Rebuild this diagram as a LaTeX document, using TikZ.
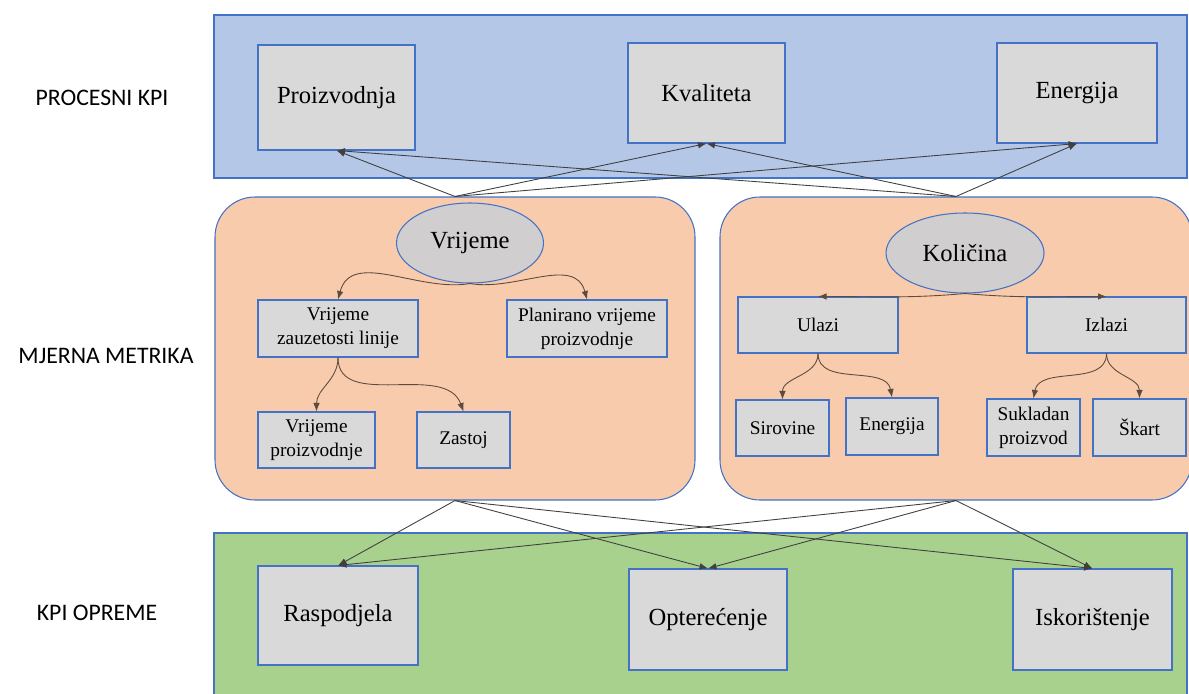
\documentclass[tikz,border=0pt]{standalone}
\usepackage{fontspec}
\setmainfont{Liberation Serif}
\newfontfamily\lblfont{Carlito}
\usetikzlibrary{arrows.meta,shapes.geometric}
\definecolor{bandblue}{HTML}{B4C7E7}
\definecolor{bandorange}{HTML}{F8CBAD}
\definecolor{bandgreen}{HTML}{A9D18E}
\definecolor{boxgray}{HTML}{D9D9D9}
\definecolor{ovalgray}{HTML}{D0CECE}
\definecolor{edgeblue}{HTML}{4472C4}
\definecolor{linkgray}{HTML}{404040}
\definecolor{subbrown}{HTML}{5E4B3C}
\begin{document}
\begin{tikzpicture}[x=0.02cm, y=-0.02cm,
   line/.style = {draw=edgeblue, line width=0.6pt},
   kpi/.style 2 args = {line, fill=boxgray, inner sep=0pt,
      minimum width=#1*0.02cm, minimum height=#2*0.02cm,
      font=\fontsize{14}{16}\selectfont},
   met/.style 2 args = {line, fill=boxgray, inner sep=0pt, align=center,
      minimum width=#1*0.02cm, minimum height=#2*0.02cm,
      font=\fontsize{11}{13.5}\selectfont},
   oval/.style 2 args = {ellipse, line, fill=ovalgray, inner sep=0pt,
      minimum width=#1*0.02cm, minimum height=#2*0.02cm,
      font=\fontsize{14}{16}\selectfont},
   panel/.style 2 args = {line, fill=bandorange, rounded corners=0.8cm,
      minimum width=#1*0.02cm, minimum height=#2*0.02cm},
   link/.style = {draw=linkgray, line width=0.5pt, -{Latex[length=1.7mm,width=1.3mm]}},
   sub/.style = {draw=subbrown, line width=0.5pt, -{Latex[length=1.7mm,width=1.3mm]}},
   side/.style = {font=\lblfont\fontsize{13.5}{16}\selectfont}]
   \useasboundingbox (0,0) rectangle (1189,693);

   \draw[line, fill=bandblue] (214,15) rectangle (1187,178);
   \draw[line, fill=bandgreen] (214,533) rectangle (1187,696);

   \node[side] (lblProc) at (102,98) {PROCESNI KPI};
   \node[side] (lblMet) at (106,356) {MJERNA METRIKA};
   \node[side] (lblOpr) at (97,613) {KPI OPREME};

   \node[kpi={157}{105}] (prod) at (336.5,97.5) {Proizvodnja};
   \node[kpi={157}{100}] (kval) at (706.5,93) {Kvaliteta};
   \node[kpi={160}{100}] (ener) at (1077,93) {Energija};

   \node[panel={480}{303}] (vrPanel) at (455,348.5) {};
   \node[panel={472}{303}] (kolPanel) at (956,348.5) {};

   \node[oval={147}{80}] (vr) at (470,243) {Vrijeme};
   \node[met={160}{57}] (zauz) at (338,328.5) {Vrijeme\\zauzetosti linije};
   \node[met={160}{57}] (plan) at (587,328.5) {Planirano vrijeme\\proizvodnje};
   \node[met={117}{56}] (vrpr) at (316.5,440) {Vrijeme\\proizvodnje};
   \node[met={93}{56}] (zast) at (463.5,440) {Zastoj};

   \node[oval={158}{80}] (kol) at (965,253) {Količina};
   \node[met={160}{56}] (ul) at (818,325) {Ulazi};
   \node[met={159}{56}] (izl) at (1106.5,325) {Izlazi};
   \node[met={93}{56}] (sir) at (782.5,428) {Sirovine};
   \node[met={92}{57}] (enul) at (892,426.5) {Energija};
   \node[met={93}{57}] (suk) at (1033.5,427.5) {Sukladan\\proizvod};
   \node[met={93}{57}] (skart) at (1139.5,427.5) {Škart};

   \node[kpi={160}{99}] (rasp) at (338,615.5) {Raspodjela};
   \node[kpi={158}{101}] (opt) at (708,619.5) {Opterećenje};
   \node[kpi={159}{101}] (isk) at (1092.5,619.5) {Iskorištenje};

   \draw[link] (vrPanel.north) -- (prod.south);
   \draw[link] (vrPanel.north) -- (kval.south);
   \draw[link] (vrPanel.north) -- (ener.south);
   \draw[link] (kolPanel.north) -- (prod.south);
   \draw[link] (kolPanel.north) -- (kval.south);
   \draw[link] (kolPanel.north) -- (ener.south);

   \draw[link] (vrPanel.south) -- (rasp.north);
   \draw[link] (vrPanel.south) -- (opt.north);
   \draw[link] (vrPanel.south) -- (isk.north);
   \draw[link] (kolPanel.south) -- (rasp.north);
   \draw[link] (kolPanel.south) -- (opt.north);
   \draw[link] (kolPanel.south) -- (isk.north);

   \draw[sub] (vr.south) to[out=190, in=75] (zauz.north);
   \draw[sub] (vr.south) to[out=-10, in=105] (plan.north);
   \draw[sub] (zauz.south) to[out=-90, in=90] (vrpr.north);
   \draw[sub] (zauz.south) to[out=-90, in=110] (zast.north);

   \draw[sub] (kol.south) to[out=185, in=0] (ul.north);
   \draw[sub] (kol.south) to[out=-5, in=180] (izl.north);
   \draw[sub] (ul.south) to[out=-90, in=90] (sir.north);
   \draw[sub] (ul.south) to[out=-90, in=100] (enul.north);
   \draw[sub] (izl.south) to[out=-90, in=80] (suk.north);
   \draw[sub] (izl.south) to[out=-90, in=90] (skart.north);
\end{tikzpicture}
\end{document}
